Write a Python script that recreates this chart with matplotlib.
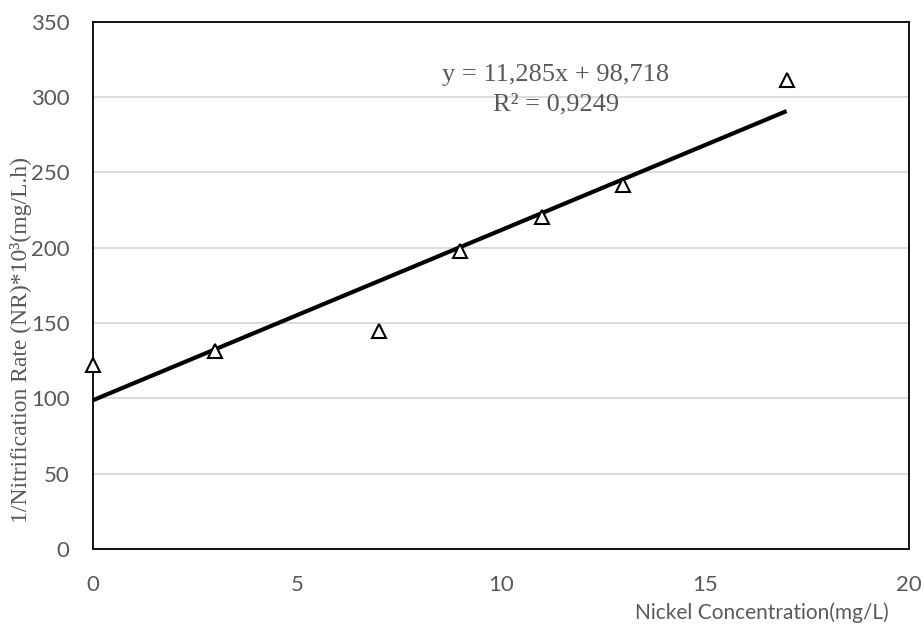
import numpy as np
import matplotlib.pyplot as plt

# data
nickel = [0, 3, 7, 9, 11, 13, 17]
inv_nr = [122, 131.5, 144.5, 198, 220, 241.5, 311]
eq_text = "y = 11,285x + 98,718"
r2_text = "R² = 0,9249"
slope, intercept = 11.285, 98.718

grey = "#595959"

fig = plt.figure(figsize=(9.24, 6.32), dpi=100)
ax = fig.add_axes([93/924, 1-549/632, (909-93)/924, (549-21.5)/632])

# trendline from the printed equation
xl = np.array([nickel[0], nickel[-1]])
ax.plot(xl, slope*xl + intercept, color="black", lw=3, solid_capstyle="butt", zorder=3)
ax.plot(nickel, inv_nr, ls="none", marker="^", ms=10, mfc="white", mec="black", mew=1.5,
        zorder=4, clip_on=False)

ax.set_xlim(0, 20)
ax.set_ylim(0, 350)
ax.set_xticks(range(0, 21, 5))
ax.set_yticks(range(0, 351, 50))
ax.grid(axis="y", color="#d9d9d9", lw=1.3)
ax.set_axisbelow(True)
for s in ax.spines.values():
    s.set_linewidth(1.3)
    s.set_color("black")
ax.tick_params(length=0, labelsize=16, labelcolor=grey)
ax.tick_params(axis="x", pad=19)
ax.tick_params(axis="y", pad=17)
for lab in ax.get_xticklabels() + ax.get_yticklabels():
    lab.set_fontfamily("Lato")

ax.text(0.567, 0.899, eq_text, transform=ax.transAxes, ha="center", va="center",
        fontsize=19, color=grey, family="Liberation Serif")
ax.text(0.567, 0.842, r2_text, transform=ax.transAxes, ha="center", va="center",
        fontsize=19, color=grey, family="Liberation Serif")

fig.text(762/924, 1-613/632, "Nickel Concentration(mg/L)", ha="center", va="center",
         fontsize=15, color=grey, family="Lato")
fig.text(21/924, 1-340/632, "1/Nitrification Rate (NR)*10³(mg/L.h)", rotation=90,
         ha="center", va="center", fontsize=17, color=grey, family="Liberation Serif")

fig.savefig("out.png", dpi=100)
